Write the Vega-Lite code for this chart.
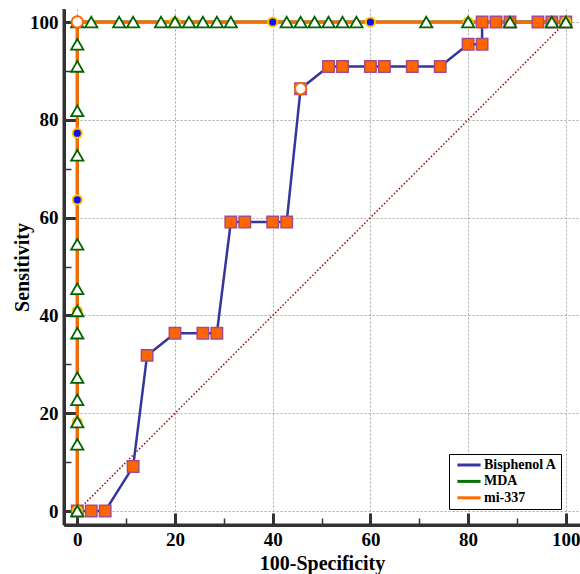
{
  "$schema": "https://vega.github.io/schema/vega-lite/v6.json",
  "width": 516,
  "height": 516,
  "autosize": {"type": "none"},
  "padding": {"left": 64, "top": 9, "right": 0, "bottom": 49},
  "background": "white",
  "config": {
    "view": {"stroke": null},
    "axis": {
      "domain": true,
      "domainColor": "#333333",
      "domainWidth": 3,
      "tickColor": "#333333",
      "tickOpacity": 1,
      "labelFont": "Liberation Serif",
      "labelFontWeight": "bold",
      "labelFontSize": 19,
      "labelColor": "black",
      "titleFont": "Liberation Serif",
      "titleFontWeight": "bold",
      "titleFontSize": 20,
      "titleColor": "black",
      "gridColor": "#a8a8a8",
      "gridDash": [2, 2],
      "gridWidth": 1
    },
    "legend": {
      "labelFont": "Liberation Serif",
      "labelFontWeight": "bold",
      "labelFontSize": 14,
      "labelColor": "black"
    }
  },
  "datasets": {
    "diag": [{"x": 0, "y": 0}, {"x": 100, "y": 100}],
    "bpa": [
      {"x": 0, "y": 0}, {"x": 2.86, "y": 0}, {"x": 5.71, "y": 0}, {"x": 11.43, "y": 9.09},
      {"x": 14.29, "y": 31.82}, {"x": 20, "y": 36.36}, {"x": 25.71, "y": 36.36}, {"x": 28.57, "y": 36.36},
      {"x": 31.43, "y": 59.09}, {"x": 34.29, "y": 59.09}, {"x": 40, "y": 59.09}, {"x": 42.86, "y": 59.09},
      {"x": 45.71, "y": 86.36}, {"x": 51.43, "y": 90.91}, {"x": 54.29, "y": 90.91}, {"x": 60, "y": 90.91},
      {"x": 62.86, "y": 90.91}, {"x": 68.57, "y": 90.91}, {"x": 74.29, "y": 90.91}, {"x": 80, "y": 95.45},
      {"x": 82.86, "y": 95.45}, {"x": 82.86, "y": 100}, {"x": 85.71, "y": 100}, {"x": 88.57, "y": 100},
      {"x": 94.29, "y": 100}, {"x": 97.14, "y": 100}, {"x": 100, "y": 100}
    ],
    "mda": [
      {"x": 0, "y": 0}, {"x": 0, "y": 13.64}, {"x": 0, "y": 18.18}, {"x": 0, "y": 22.73}, {"x": 0, "y": 27.27},
      {"x": 0, "y": 36.36}, {"x": 0, "y": 40.91}, {"x": 0, "y": 45.45}, {"x": 0, "y": 54.55}, {"x": 0, "y": 72.73},
      {"x": 0, "y": 81.82}, {"x": 0, "y": 90.91}, {"x": 0, "y": 95.45}, {"x": 0, "y": 100},
      {"x": 2.86, "y": 100}, {"x": 8.57, "y": 100}, {"x": 11.43, "y": 100}, {"x": 17.14, "y": 100},
      {"x": 20, "y": 100}, {"x": 22.86, "y": 100}, {"x": 25.71, "y": 100}, {"x": 28.57, "y": 100},
      {"x": 31.43, "y": 100}, {"x": 42.86, "y": 100}, {"x": 45.71, "y": 100}, {"x": 48.57, "y": 100},
      {"x": 51.43, "y": 100}, {"x": 54.29, "y": 100}, {"x": 57.14, "y": 100}, {"x": 71.43, "y": 100},
      {"x": 80, "y": 100}, {"x": 88.57, "y": 100}, {"x": 97.14, "y": 100}, {"x": 100, "y": 100}
    ],
    "mi": [
      {"x": 0, "y": 0}, {"x": 0, "y": 18.18}, {"x": 0, "y": 40.91}, {"x": 0, "y": 63.64}, {"x": 0, "y": 77.27},
      {"x": 0, "y": 100}, {"x": 20, "y": 100}, {"x": 40, "y": 100}, {"x": 60, "y": 100}, {"x": 80, "y": 100},
      {"x": 100, "y": 100}
    ],
    "opt": [{"x": 0, "y": 100}, {"x": 45.71, "y": 86.36}]
  },
  "layer": [
    {
      "data": {"name": "diag"},
      "mark": {"type": "line", "color": "#8b1010", "strokeWidth": 1.5, "strokeDash": [1.5, 2]},
      "encoding": {
        "x": {
          "field": "x",
          "type": "quantitative",
          "scale": {"domain": [-2.72, 102.9], "nice": false, "zero": false},
          "axis": {
            "title": "100-Specificity",
            "values": [0, 10, 20, 30, 40, 50, 60, 70, 80, 90, 100],
            "labelExpr": "datum.value % 20 === 0 ? datum.label : ''",
            "tickSize": {"condition": {"test": "datum.value % 20 === 0", "value": -12}, "value": -7},
            "tickWidth": {"condition": {"test": "datum.value % 20 === 0", "value": 3}, "value": 1.5},
            "gridOpacity": {"condition": {"test": "datum.value % 20 === 0", "value": 1}, "value": 0},
            "labelPadding": 17,
            "labelFlush": false,
            "labelOverlap": false,
            "titleBaseline": "middle",
            "titleY": 38
          }
        },
        "y": {
          "field": "y",
          "type": "quantitative",
          "scale": {"domain": [-2.86, 102.66], "nice": false, "zero": false},
          "axis": {
            "title": "Sensitivity",
            "values": [0, 10, 20, 30, 40, 50, 60, 70, 80, 90, 100],
            "labelExpr": "datum.value % 20 === 0 ? datum.label : ''",
            "tickSize": {"condition": {"test": "datum.value % 20 === 0", "value": -12}, "value": -7},
            "tickWidth": {"condition": {"test": "datum.value % 20 === 0", "value": 3}, "value": 1.5},
            "gridOpacity": {"condition": {"test": "datum.value % 20 === 0", "value": 1}, "value": 0},
            "labelPadding": 18,
            "labelFlush": false,
            "labelOverlap": false,
            "titleBaseline": "middle",
            "titleX": -42
          }
        }
      }
    },
    {
      "data": {"name": "bpa"},
      "mark": {"type": "line", "strokeWidth": 2.5},
      "encoding": {
        "x": {"field": "x", "type": "quantitative"},
        "y": {"field": "y", "type": "quantitative"},
        "color": {
          "datum": "Bisphenol A",
          "type": "nominal",
          "scale": {"domain": ["Bisphenol A", "MDA", "mi-337"], "range": ["#35359c", "#0a700a", "#ff6a00"]},
          "legend": {
            "title": null,
            "orient": "none",
            "legendX": 385,
            "legendY": 445,
            "symbolType": "M-2.9,0H2.9",
            "symbolStrokeWidth": 3,
            "symbolSize": 64,
            "symbolOffset": 9,
            "strokeColor": "black",
            "fillColor": "white",
            "padding": 4,
            "rowPadding": 2.4,
            "labelOffset": 8,
            "labelExpr": "datum.label + '  '"
          }
        }
      }
    },
    {
      "data": {"name": "mda"},
      "mark": {"type": "line", "strokeWidth": 3},
      "encoding": {
        "x": {"field": "x", "type": "quantitative"},
        "y": {"field": "y", "type": "quantitative"},
        "color": {"datum": "MDA", "type": "nominal"}
      }
    },
    {
      "data": {"name": "mi"},
      "mark": {"type": "line", "strokeWidth": 3},
      "encoding": {
        "x": {"field": "x", "type": "quantitative"},
        "y": {"field": "y", "type": "quantitative"},
        "color": {"datum": "mi-337", "type": "nominal"}
      }
    },
    {
      "data": {"name": "bpa"},
      "mark": {"type": "point", "shape": "square", "filled": true, "size": 130, "fill": "#ff6600", "stroke": "#a24c8c", "strokeWidth": 1.5, "opacity": 1},
      "encoding": {
        "x": {"field": "x", "type": "quantitative"},
        "y": {"field": "y", "type": "quantitative"}
      }
    },
    {
      "data": {"name": "mi"},
      "mark": {"type": "point", "shape": "circle", "filled": true, "size": 85, "fill": "#1010f0", "stroke": "#ffc400", "strokeWidth": 2, "opacity": 1},
      "encoding": {
        "x": {"field": "x", "type": "quantitative"},
        "y": {"field": "y", "type": "quantitative"}
      }
    },
    {
      "data": {"name": "mda"},
      "mark": {"type": "point", "shape": "triangle-up", "filled": true, "size": 150, "fill": "white", "stroke": "#006400", "strokeWidth": 1.8, "opacity": 1},
      "encoding": {
        "x": {"field": "x", "type": "quantitative"},
        "y": {"field": "y", "type": "quantitative"}
      }
    },
    {
      "data": {"name": "opt"},
      "mark": {"type": "point", "shape": "circle", "filled": true, "size": 130, "fill": "white", "stroke": "#ff6600", "strokeWidth": 2, "opacity": 1},
      "encoding": {
        "x": {"field": "x", "type": "quantitative"},
        "y": {"field": "y", "type": "quantitative"}
      }
    },
    {
      "data": {"values": [{"edge": "left"}]},
      "mark": {"type": "rule", "color": "#333333", "strokeWidth": 3},
      "encoding": {"x": {"datum": -2.72, "type": "quantitative"}}
    },
    {
      "data": {"values": [{"edge": "bottom"}]},
      "mark": {"type": "rule", "color": "#333333", "strokeWidth": 3},
      "encoding": {"y": {"datum": -2.86, "type": "quantitative"}}
    }
  ]
}
